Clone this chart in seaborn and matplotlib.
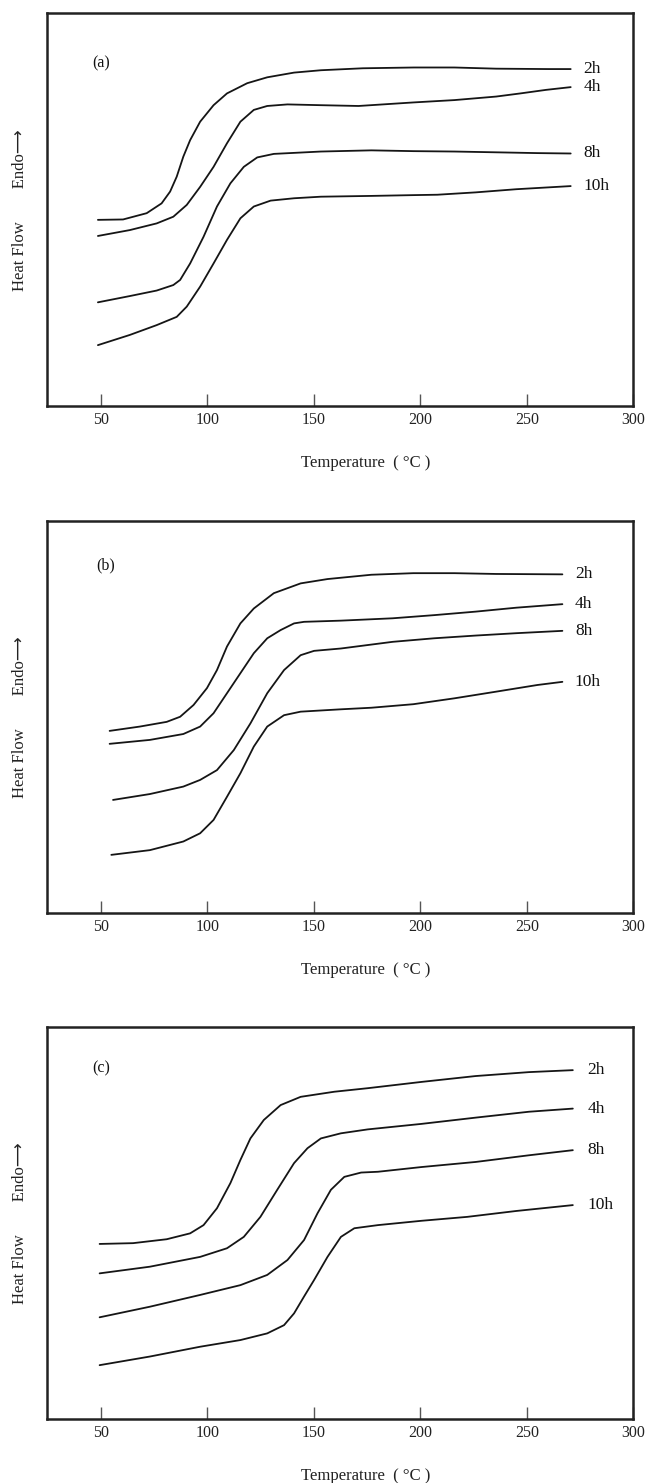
import matplotlib
matplotlib.use("Agg")
import matplotlib.pyplot as plt
import seaborn as sns
import pandas as pd

# ---------------- data ----------------
# Panel (a)
a_2h_T = [48.6, 60.4, 71.5, 78.5, 82.5, 85.6, 88.7, 91.9, 96.6, 102.9, 109.2, 118.7, 128.1, 140.7, 153.3, 173, 197, 216, 235.6, 260, 270.6]
a_2h_y = [47.4, 47.5, 49.1, 51.6, 54.6, 58.4, 63.5, 67.7, 72.4, 76.6, 79.6, 82.2, 83.7, 84.9, 85.5, 86.0, 86.2, 86.2, 85.9, 85.8, 85.8]
a_4h_T = [48.6, 63.6, 76.2, 84.0, 90.3, 96.6, 102.9, 109.2, 115.5, 121.8, 128.1, 137.6, 153.3, 171, 196.7, 216, 235.6, 247, 259, 270.6]
a_4h_y = [43.3, 44.8, 46.5, 48.2, 51.2, 55.8, 60.9, 66.9, 72.4, 75.4, 76.4, 76.8, 76.6, 76.4, 77.3, 77.9, 78.8, 79.6, 80.5, 81.2]
a_8h_T = [48.6, 63.6, 76.2, 84.0, 87.2, 91.9, 98.2, 104.5, 110.8, 117.1, 123.4, 131.2, 142.3, 153.3, 177, 196.7, 216, 235.6, 255, 270.6]
a_8h_y = [26.4, 28.0, 29.4, 30.8, 32.1, 36.3, 43.1, 50.8, 56.7, 60.9, 63.3, 64.2, 64.5, 64.8, 65.1, 64.9, 64.8, 64.6, 64.4, 64.3]
a_10h_T = [48.6, 63.6, 76.2, 85.6, 90.3, 96.6, 102.9, 109.2, 115.5, 121.8, 129.7, 140.7, 153.3, 177, 196.7, 208, 226, 245, 270.6]
a_10h_y = [15.5, 18.1, 20.6, 22.7, 25.3, 30.4, 36.3, 42.3, 47.8, 50.8, 52.3, 52.9, 53.3, 53.5, 53.7, 53.8, 54.4, 55.2, 56.0]

# Panel (b)
b_2h_T = [54.1, 68.3, 80.9, 87.2, 93.5, 99.8, 104.5, 109.2, 115.5, 121.8, 131.2, 143.8, 156.4, 177, 196.7, 216, 235.6, 266.7]
b_2h_y = [46.5, 47.6, 48.8, 50.1, 53.1, 57.4, 62.0, 68.0, 73.9, 77.7, 81.6, 84.1, 85.2, 86.3, 86.7, 86.7, 86.5, 86.4]
b_4h_T = [54.1, 73.0, 88.7, 96.6, 102.9, 109.2, 115.5, 121.8, 128.1, 134.4, 140.7, 145.4, 162.7, 187, 206.4, 226, 245, 266.7]
b_4h_y = [43.2, 44.2, 45.7, 47.6, 51.0, 56.1, 61.2, 66.3, 70.1, 72.2, 73.9, 74.3, 74.6, 75.2, 76.0, 76.9, 77.9, 78.8]
b_8h_T = [55.7, 73.0, 88.7, 96.6, 104.5, 112.4, 120.2, 128.1, 136.0, 143.8, 150.1, 162.7, 187, 206.4, 226, 245, 266.7]
b_8h_y = [28.9, 30.4, 32.3, 34.0, 36.5, 41.6, 48.4, 56.1, 62.0, 65.8, 66.9, 67.5, 69.2, 70.1, 70.8, 71.4, 72.0]
b_10h_T = [54.9, 73.0, 88.7, 96.6, 102.9, 109.2, 115.5, 121.8, 128.1, 136.0, 143.8, 162.7, 177, 196.7, 216, 235.6, 255, 266.7]
b_10h_y = [14.9, 16.1, 18.3, 20.4, 23.8, 29.7, 35.7, 42.5, 47.6, 50.5, 51.4, 52.0, 52.4, 53.3, 54.8, 56.5, 58.2, 59.0]

# Panel (c)
c_2h_T = [49.4, 65.1, 80.9, 91.9, 98.2, 104.5, 110.8, 115.5, 120.2, 126.5, 134.4, 143.8, 159.6, 175.3, 200.5, 226, 251, 271.6]
c_2h_y = [44.7, 44.9, 45.9, 47.4, 49.5, 53.8, 60.2, 66.1, 71.6, 76.3, 80.1, 82.2, 83.5, 84.4, 86.0, 87.5, 88.5, 89.0]
c_4h_T = [49.4, 73.0, 96.6, 109.2, 117.1, 124.9, 132.8, 140.7, 147.0, 153.3, 162.7, 175.3, 200.5, 226, 251, 271.6]
c_4h_y = [37.2, 38.9, 41.4, 43.6, 46.5, 51.6, 58.5, 65.3, 69.1, 71.6, 72.9, 73.9, 75.3, 76.9, 78.4, 79.2]
c_8h_T = [49.4, 73.0, 96.6, 115.5, 128.1, 137.6, 145.4, 151.7, 158.0, 164.3, 172.2, 180.1, 200.5, 226, 251, 271.6]
c_8h_y = [26.0, 28.7, 31.7, 34.2, 36.8, 40.6, 45.7, 52.5, 58.5, 61.8, 62.9, 63.1, 64.3, 65.6, 67.3, 68.6]
c_10h_T = [49.4, 73.0, 96.6, 115.5, 128.1, 136.0, 140.7, 145.4, 150.1, 156.4, 162.7, 169.0, 180.1, 200.5, 222, 245, 271.6]
c_10h_y = [13.8, 16.0, 18.5, 20.2, 21.9, 24.0, 27.0, 31.3, 35.5, 41.4, 46.5, 48.7, 49.5, 50.6, 51.6, 53.1, 54.6]

series_names = ["2h", "4h", "8h", "10h"]
panel_tags = ["(a)", "(b)", "(c)"]
x_ticks = [50, 100, 150, 200, 250, 300]
x_label = "Temperature  ( °C )"
y_label = "Heat Flow        Endo\u27f6"

panels = [
    [(a_2h_T, a_2h_y), (a_4h_T, a_4h_y), (a_8h_T, a_8h_y), (a_10h_T, a_10h_y)],
    [(b_2h_T, b_2h_y), (b_4h_T, b_4h_y), (b_8h_T, b_8h_y), (b_10h_T, b_10h_y)],
    [(c_2h_T, c_2h_y), (c_4h_T, c_4h_y), (c_8h_T, c_8h_y), (c_10h_T, c_10h_y)],
]
label_x = [276.5, 272.6, 278.4]
tag_pos = [(46, 87.3), (48, 88.8), (46, 89.4)]

# ---------------- style ----------------
sns.set_theme(style="white")
plt.rcParams["font.family"] = ["Liberation Serif", "DejaVu Sans"]
plt.rcParams["lines.solid_joinstyle"] = "round"
plt.rcParams["lines.solid_capstyle"] = "round"

W, H = 646, 1483
fig = plt.figure(figsize=(W / 100, H / 100), dpi=100)

ax_left = 46.6 / W
ax_w = (633.3 - 46.6) / W
ax_tops = [13.3, 521.0, 1027.0]
ax_bottoms = [406.0, 913.3, 1419.3]

for i, curves in enumerate(panels):
    top, bot = ax_tops[i], ax_bottoms[i]
    ax = fig.add_axes([ax_left, (H - bot) / H, ax_w, (bot - top) / H])
    for name, (T, y) in zip(series_names, curves):
        df = pd.DataFrame({"T": T, "y": y})
        sns.lineplot(data=df, x="T", y="y", ax=ax, color="#151515", linewidth=1.3,
                     estimator=None, sort=False)
        ax.text(label_x[i], y[-1], name, ha="left", va="center", fontsize=12.5,
                color="#111111")
    ax.text(tag_pos[i][0], tag_pos[i][1], panel_tags[i], ha="left", va="center",
            fontsize=11.5, color="#111111")
    ax.set_xlim(24.5, 300)
    ax.set_ylim(0, 100)
    ax.set_xticks(x_ticks)
    ax.set_xticklabels([str(t) for t in x_ticks], fontsize=11.5, color="#222222")
    ax.set_yticks([])
    ax.tick_params(axis="x", direction="in", length=9, width=1.0, pad=4,
                   bottom=True, top=False, color="#555555")
    for sp in ax.spines.values():
        sp.set_linewidth(1.8)
        sp.set_color("#222222")
        sp.set_visible(True)
        sp.set_zorder(5)
    ax.set_xlabel("")
    ax.set_ylabel("")
    ax.text(0.544, -0.145, x_label, transform=ax.transAxes, ha="center", va="center",
            fontsize=12, color="#222222")
    ax.text(-0.0457, 0.5, y_label, transform=ax.transAxes, ha="center", va="center",
            rotation=90, fontsize=12, color="#222222")

fig.savefig("out.png", dpi=100, facecolor="white")
